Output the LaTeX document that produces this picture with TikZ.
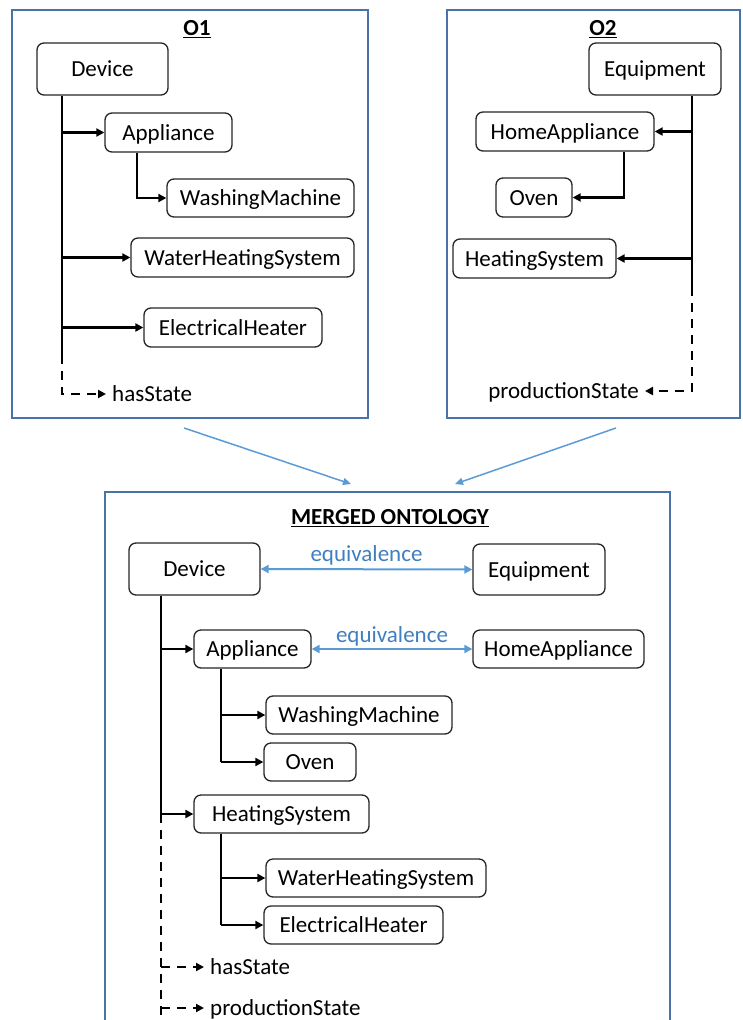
\documentclass[tikz,border=0pt]{standalone}
\usepackage{fontspec}
\setmainfont{Carlito}
\usetikzlibrary{arrows.meta}
\definecolor{frame}{HTML}{4A74A8}
\definecolor{eqline}{HTML}{5B9BD5}
\definecolor{eqtext}{HTML}{3F7FC0}
\begin{document}
\begin{tikzpicture}[x=1pt,y=-1pt,
  font=\fontsize{23}{27}\selectfont,
  cls/.style={draw=black!85, line width=1.3pt, rounded corners=7pt, inner sep=0pt, fill=white, text height=17.5pt, text depth=2pt},
  conn/.style={line width=2.7pt, black},
  arr/.style={conn, -{Triangle[length=8pt,width=8pt]}},
  dasharr/.style={conn, dash pattern=on 9pt off 7pt, -{Triangle[length=8pt,width=8pt]}},
  dashln/.style={conn, dash pattern=on 9pt off 7pt},
  lbl/.style={inner xsep=6pt, inner ysep=0pt, text height=17.5pt, text depth=2pt},
  frm/.style={draw=frame, line width=2.5pt},
  eq/.style={eqline, line width=2pt, {Triangle[length=8pt,width=8pt]}-{Triangle[length=8pt,width=8pt]}},
  eqlbl/.style={text=eqtext, inner sep=0pt},
  merge/.style={eqline, line width=1.5pt, -{Triangle[length=8pt,width=7pt]}},
  ttl/.style={font=\fontsize{23}{27}\selectfont\bfseries, inner sep=0pt}]
\useasboundingbox (0,0) rectangle (742,1020);
\clip (0,0) rectangle (742,1020);

% frames
\draw[frm] (12,10) rectangle (368,418);
\draw[frm] (447,10) rectangle (740,418);
\draw[frm] (105,492) rectangle (670,1045);

% ---------- O1 ----------
\node[ttl] (T1) at (197,29) {\underline{O1}};
\node[cls, minimum width=131pt, minimum height=52pt] (d1) at (102.5,69) {Device};
\node[cls, minimum width=127pt, minimum height=39pt] (a1) at (168.5,132.5) {Appliance};
\node[cls, minimum width=187pt, minimum height=38pt] (w1) at (260.5,198) {WashingMachine};
\node[cls, minimum width=223pt, minimum height=39pt] (h1) at (242.5,257.5) {WaterHeatingSystem};
\node[cls, minimum width=178pt, minimum height=39pt] (e1) at (233,327.5) {ElectricalHeater};
\node[lbl, anchor=west] (s1) at (106,394) {hasState};
\coordinate (t1) at ([xshift=-40.5pt]d1.south);
\coordinate (u1) at (62,355);
\draw[conn] (t1) -- (u1);
\draw[arr] (t1 |- a1.west) -- (a1.west);
\draw[arr] (t1 |- h1.west) -- (h1.west);
\draw[arr] (t1 |- e1.west) -- (e1.west);
\draw[dasharr] (u1) |- (s1.west);
\draw[arr] ([xshift=-31.5pt]a1.south) |- (w1.west);

% ---------- O2 ----------
\node[ttl] (T2) at (603,29) {\underline{O2}};
\node[cls, minimum width=132pt, minimum height=52pt] (d2) at (655,69) {Equipment};
\node[cls, minimum width=178pt, minimum height=39pt] (a2) at (565,131.5) {HomeAppliance};
\node[cls, minimum width=76pt, minimum height=39pt] (o2) at (534,197.5) {Oven};
\node[cls, minimum width=163pt, minimum height=39pt] (h2) at (534.5,258.5) {HeatingSystem};
\node[lbl, anchor=east] (s2) at (645,391) {productionState};
\coordinate (t2) at ([xshift=37pt]d2.south);
\coordinate (u2) at (692,287);
\draw[conn] (t2) -- (u2);
\draw[arr] (t2 |- a2.east) -- (a2.east);
\draw[arr] (t2 |- h2.east) -- (h2.east);
\draw[dasharr] (u2) |- (s2.east);
\draw[arr] ([xshift=59pt]a2.south) |- (o2.east);

% ---------- merge arrows ----------
\coordinate (m1a) at (184,428);
\coordinate (m1b) at (351,484);
\coordinate (m2a) at (616,428);
\coordinate (m2b) at (455,484);
\draw[merge] (m1a) -- (m1b);
\draw[merge] (m2a) -- (m2b);

% ---------- merged ontology ----------
\node[ttl] (T3) at (390,518) {\underline{MERGED ONTOLOGY}};
\node[cls, minimum width=131pt, minimum height=52pt] (dm) at (194.5,569) {Device};
\node[cls, minimum width=132pt, minimum height=51pt] (em) at (539,569.5) {Equipment};
\node[cls, minimum width=117pt, minimum height=38pt] (am) at (252.5,649) {Appliance};
\node[cls, minimum width=171pt, minimum height=38pt] (hm) at (558.5,649) {HomeAppliance};
\node[cls, minimum width=186pt, minimum height=38pt] (wm) at (359,715) {WashingMachine};
\node[cls, minimum width=92pt, minimum height=38pt] (om) at (310,762) {Oven};
\node[cls, minimum width=175pt, minimum height=38pt] (hsm) at (281.5,814) {HeatingSystem};
\node[cls, minimum width=220pt, minimum height=38pt] (whm) at (376,878) {WaterHeatingSystem};
\node[cls, minimum width=179pt, minimum height=38pt] (ehm) at (353.5,925) {ElectricalHeater};
\node[lbl, anchor=west] (sm1) at (204,967) {hasState};
\node[lbl, anchor=west] (sm2) at (204,1008) {productionState};

\draw[eq] (dm.east) -- (em.west) node[eqlbl, midway, above=3pt] (q1) {equivalence};
\draw[eq] (am.east) -- (hm.west) node[eqlbl, midway, above=2pt] (q2) {equivalence};

\coordinate (tm) at ([xshift=-33.5pt]dm.south);
\coordinate (bm) at (161,1040);
\draw[conn] (tm) -- (tm |- hsm.west);
\draw[arr] (tm |- am.west) -- (am.west);
\draw[arr] (tm |- hsm.west) -- (hsm.west);
\draw[dashln] (tm |- hsm.west) -- (bm);
\draw[dasharr] (tm |- sm1.west) -- (sm1.west);
\draw[dasharr] (tm |- sm2.west) -- (sm2.west);

\coordinate (ta) at ([xshift=-31.5pt]am.south);
\draw[conn] (ta) -- (ta |- om.west);
\draw[arr] (ta |- wm.west) -- (wm.west);
\draw[arr] (ta |- om.west) -- (om.west);

\coordinate (th) at ([xshift=-60.5pt]hsm.south);
\draw[conn] (th) -- (th |- ehm.west);
\draw[arr] (th |- whm.west) -- (whm.west);
\draw[arr] (th |- ehm.west) -- (ehm.west);
\end{tikzpicture}
\end{document}
